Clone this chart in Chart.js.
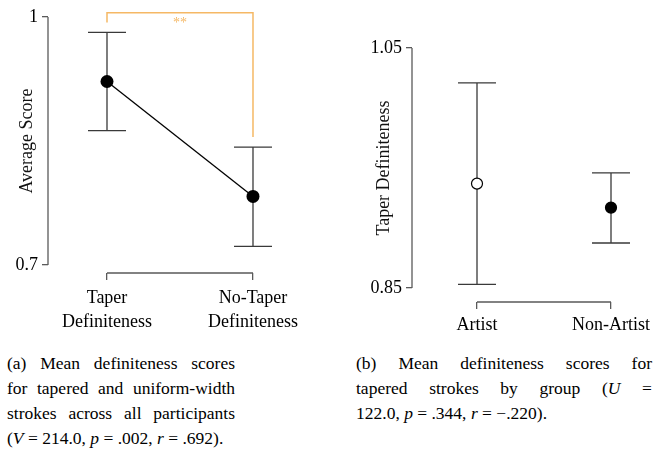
<!DOCTYPE html>
<html>
<head>
<meta charset="utf-8">
<script src="https://cdn.jsdelivr.net/npm/chart.js@4"></script>
<style>
  html, body { margin: 0; padding: 0; background: #fff; }
  body { width: 670px; height: 455px; position: relative; overflow: hidden;
         font-family: "Liberation Serif", "Times New Roman", serif; color: #000; }
  .panel { position: absolute; top: 0; width: 335px; height: 340px; }
  .cap { position: absolute; top: 351px; font-size: 17.5px; line-height: 25px; }
  .cap .j { text-align: justify; text-align-last: justify; }
</style>
</head>
<body>
<div class="panel" style="left:0"><canvas id="chartA" width="335" height="340"></canvas></div>
<div class="panel" style="left:335px"><canvas id="chartB" width="335" height="340"></canvas></div>
<div class="cap" style="left:7px;width:228px">
  <div class="j">(a) Mean definiteness scores</div>
  <div class="j">for tapered and uniform-width</div>
  <div class="j">strokes across all participants</div>
  <div>(<i>V</i> = 214.0, <i>p</i> = .002, <i>r</i> = .692).</div>
</div>
<div class="cap" style="left:356px;width:296px">
  <div class="j">(b) Mean definiteness scores for</div>
  <div class="j">tapered strokes by group (<i>U</i> =</div>
  <div>122.0, <i>p</i> = .344, <i>r</i> = &minus;.220).</div>
</div>
<script>
// panel (a): all participants
const categoriesA = [['Taper', 'Definiteness'], ['No-Taper', 'Definiteness']];
const meansA = [0.922, 0.783];
const lowerA = [0.8625, 0.7226];
const upperA = [0.9815, 0.8427];
const yTicksA = [0.7, 1];
const yTickLabelsA = ['0.7', '1'];
const sigLabelA = '**';

// panel (b): tapered strokes by group
const categoriesB = ['Artist', 'Non-Artist'];
const meansB = [0.937, 0.917];
const lowerB = [0.853, 0.8875];
const upperB = [1.021, 0.946];
const yTicksB = [0.85, 1.05];
const yTickLabelsB = ['0.85', '1.05'];

const SERIF = '"Liberation Serif", "Times New Roman", serif';
const AXIS_GREY = '#5a5a5a';
const ERR_GREY = '#3a3a3a';
const ORANGE = '#f5b865';

// R style axes: lines only span first..last tick
const rAxes = {
  id: 'rAxes',
  afterDraw(chart) {
    const {ctx, chartArea, scales: {x, y}} = chart;
    const yt = y.ticks.map(t => y.getPixelForValue(t.value));
    const xt = x.ticks.map(t => x.getPixelForValue(t.value));
    ctx.save();
    ctx.strokeStyle = AXIS_GREY;
    ctx.lineWidth = 1.3;
    ctx.beginPath();
    ctx.moveTo(chartArea.left, Math.min(...yt));
    ctx.lineTo(chartArea.left, Math.max(...yt));
    ctx.moveTo(Math.min(...xt), chartArea.bottom);
    ctx.lineTo(Math.max(...xt), chartArea.bottom);
    ctx.stroke();
    ctx.restore();
  }
};

const errorBars = {
  id: 'errorBars',
  beforeDatasetsDraw(chart, args, opts) {
    const {ctx, scales: {x, y}} = chart;
    ctx.save();
    ctx.strokeStyle = ERR_GREY;
    ctx.lineWidth = 1.3;
    opts.lower.forEach((lo, i) => {
      const px = x.getPixelForValue(i);
      const pLo = y.getPixelForValue(lo);
      const pHi = y.getPixelForValue(opts.upper[i]);
      ctx.beginPath();
      ctx.moveTo(px, pLo); ctx.lineTo(px, pHi);
      ctx.moveTo(px - opts.cap, pLo); ctx.lineTo(px + opts.cap, pLo);
      ctx.moveTo(px - opts.cap, pHi); ctx.lineTo(px + opts.cap, pHi);
      ctx.stroke();
    });
    ctx.restore();
  }
};

// significance bracket between the two conditions
const sigBracket = {
  id: 'sigBracket',
  afterDraw(chart, args, opts) {
    if (!opts.label) return;
    const {ctx, scales: {x, y}} = chart;
    const x0 = x.getPixelForValue(0), x1 = x.getPixelForValue(1);
    const top = y.getPixelForValue(opts.top);
    ctx.save();
    ctx.strokeStyle = ORANGE;
    ctx.lineWidth = 1.5;
    ctx.beginPath();
    ctx.moveTo(x0, y.getPixelForValue(opts.upper[0] + opts.gap));
    ctx.lineTo(x0, top);
    ctx.lineTo(x1, top);
    ctx.lineTo(x1, y.getPixelForValue(opts.upper[1] + opts.gap));
    ctx.stroke();
    ctx.fillStyle = ORANGE;
    ctx.font = '14px ' + SERIF;
    ctx.textAlign = 'center';
    ctx.textBaseline = 'alphabetic';
    ctx.fillText(opts.label, (x0 + x1) / 2, top + 14);
    ctx.restore();
  }
};

function makeScales(cfg) {
  return {
    x: {
      type: 'linear', min: cfg.xMin, max: cfg.xMax, bounds: 'data',
      border: { display: false },
      grid: { drawOnChartArea: false, drawTicks: true, tickLength: 7, color: AXIS_GREY, lineWidth: 1.3 },
      afterBuildTicks: s => { s.ticks = cfg.categories.map((c, i) => ({ value: i })); },
      afterFit: s => { s.height = cfg.xHeight; s.paddingLeft = 0; s.paddingRight = 0; },
      ticks: {
        autoSkip: false, maxRotation: 0, padding: cfg.xPad, color: '#000',
        font: { family: SERIF, size: 18, lineHeight: 1.3 },
        callback: (v, i) => cfg.categories[i]
      }
    },
    y: {
      type: 'linear', min: cfg.yMin, max: cfg.yMax, bounds: 'data',
      border: { display: false },
      grid: { drawOnChartArea: false, drawTicks: true, tickLength: 6, color: AXIS_GREY, lineWidth: 1.3 },
      afterBuildTicks: s => { s.ticks = cfg.yTicks.map(v => ({ value: v })); },
      afterFit: s => { s.width = cfg.yWidth; s.paddingTop = 0; s.paddingBottom = 0; },
      title: {
        display: true, text: cfg.yTitle, color: '#111',
        font: { family: SERIF, size: 18 }, padding: { top: cfg.titlePad, bottom: 0 }
      },
      ticks: {
        padding: 4, color: '#000',
        font: { family: SERIF, size: 18 },
        callback: (v, i) => cfg.yTickLabels[i]
      }
    }
  };
}

const baseOpts = {
  responsive: false, animation: false, devicePixelRatio: 1,
  plugins: { legend: { display: false }, tooltip: { enabled: false } }
};

new Chart(document.getElementById('chartA'), {
  type: 'scatter',
  data: {
    datasets: [{
      data: meansA.map((m, i) => ({ x: i, y: m })),
      showLine: true, borderColor: '#000', borderWidth: 1.3,
      pointRadius: 6.5, pointBackgroundColor: '#000', pointBorderColor: '#000', pointBorderWidth: 0,
      clip: false
    }]
  },
  options: {
    ...baseOpts,
    layout: { padding: { top: 9, right: 10, bottom: 0, left: 0 } },
    scales: makeScales({
      categories: categoriesA, yTicks: yTicksA, yTickLabels: yTickLabelsA,
      xMin: -0.4041, xMax: 1.4932, yMin: 0.69032, yMax: 1.00968,
      xHeight: 67, yWidth: 48, yTitle: 'Average Score', titlePad: 16, xPad: 7
    }),
    plugins: {
      ...baseOpts.plugins,
      errorBars: { lower: lowerA, upper: upperA, cap: 19 },
      sigBracket: { label: sigLabelA, upper: upperA, gap: 0.012, top: 1.005 }
    }
  },
  plugins: [rAxes, errorBars, sigBracket]
});

new Chart(document.getElementById('chartB'), {
  type: 'scatter',
  data: {
    datasets: [{
      data: meansB.map((m, i) => ({ x: i, y: m })),
      showLine: false,
      pointRadius: 5.5, pointBackgroundColor: ['#fff', '#000'], pointBorderColor: '#000', pointBorderWidth: 1.2,
      clip: false
    }]
  },
  options: {
    ...baseOpts,
    layout: { padding: { top: 34, right: 10, bottom: 0, left: 0 } },
    scales: makeScales({
      categories: categoriesB, yTicks: yTicksB, yTickLabels: yTickLabelsB,
      xMin: -0.48507, xMax: 1.36567, yMin: 0.838333, yMax: 1.061667,
      xHeight: 38, yWidth: 77, yTitle: 'Taper Definiteness', titlePad: 38, xPad: 5
    }),
    plugins: {
      ...baseOpts.plugins,
      errorBars: { lower: lowerB, upper: upperB, cap: 19 }
    }
  },
  plugins: [rAxes, errorBars]
});
</script>
</body>
</html>
